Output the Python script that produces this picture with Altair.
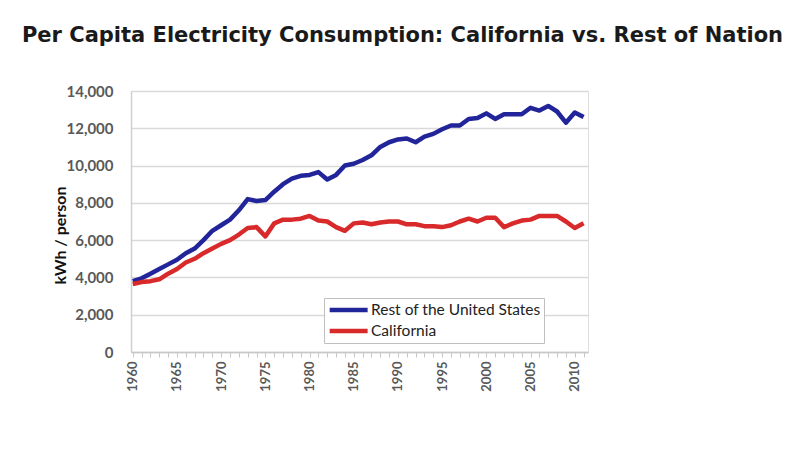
import altair as alt
import pandas as pd

years = list(range(1960, 2012))
rest_of_us = [3800, 3950, 4200, 4450, 4700, 4950, 5300, 5550, 6000, 6500,
              6800, 7100, 7600, 8200, 8100, 8150, 8600, 9000, 9300, 9450,
              9500, 9650, 9250, 9500, 10000, 10100, 10300, 10550, 11000, 11250,
              11400, 11450, 11250, 11550, 11700, 11950, 12150, 12150, 12500, 12550,
              12800, 12500, 12750, 12750, 12750, 13100, 12950, 13200, 12900, 12300,
              12850, 12600]
california = [3650, 3750, 3800, 3900, 4200, 4450, 4800, 5000, 5300, 5550,
              5800, 6000, 6300, 6650, 6700, 6200, 6900, 7100, 7100, 7150,
              7300, 7050, 7000, 6700, 6500, 6900, 6950, 6850, 6950, 7000,
              7000, 6850, 6850, 6750, 6750, 6700, 6800, 7000, 7150, 7000,
              7200, 7200, 6700, 6900, 7050, 7100, 7300, 7300, 7300, 7000,
              6650, 6900]
series_names = ["Rest of the United States", "California"]
series_colors = ["#22249a", "#d8292b"]
y_ticks = [0, 2000, 4000, 6000, 8000, 10000, 12000, 14000]

df = pd.concat([
    pd.DataFrame({"year": years, "value": rest_of_us, "series": series_names[0]}),
    pd.DataFrame({"year": years, "value": california, "series": series_names[1]}),
])

chart = alt.Chart(df).mark_line(strokeWidth=4.5, strokeJoin="round").encode(
    x=alt.X("year:Q",
            scale=alt.Scale(domain=[1959.8, 2011.5], nice=False, zero=False),
            axis=alt.Axis(title=None, values=years, format="d",
                          labelExpr="datum.value % 5 == 0 ? datum.label : ''",
                          labelAngle=270, labelAlign="right", labelBaseline="middle",
                          labelFont="Lato", labelFontWeight="bold", labelFontSize=13,
                          labelColor="#595959", labelPadding=4,
                          tickSize=5, tickColor="#c8c8c8", tickWidth=1,
                          domainColor="#c8c8c8", domainWidth=1.5, grid=False,
                          labelOverlap=False, labelFlush=False)),
    y=alt.Y("value:Q",
            scale=alt.Scale(domain=[0, 14000], nice=False),
            axis=alt.Axis(title="kWh / person", values=y_ticks, format=",d",
                          labelFont="Lato", labelFontWeight="bold", labelFontSize=15,
                          labelColor="#595959", labelPadding=18, ticks=False,
                          domainColor="#d0d0d0", domainWidth=1.5,
                          gridColor="#d9d9d9", gridWidth=1.5,
                          titleFont="Lato", titleFontWeight="bold", titleFontSize=16,
                          titleColor="#111111", titleX=-71, titleY=144,
                          titleAngle=270, titleAlign="center", titleBaseline="middle")),
    color=alt.Color("series:N",
                    scale=alt.Scale(domain=series_names, range=series_colors),
                    sort=series_names,
                    legend=alt.Legend(title=None, orient="none", legendX=193, legendY=207,
                                      fillColor="white", strokeColor="#bfbfbf",
                                      padding=3, symbolType="M-1,0H5",
                                      symbolStrokeWidth=4.5, symbolSize=160,
                                      labelFont="Lato", labelFontSize=15.5,
                                      labelColor="#222222", labelOffset=26,
                                      labelLimit=400, rowPadding=3)),
).properties(
    width=457,
    height=261,
    title=alt.TitleParams(
        text="Per Capita Electricity Consumption: California vs. Rest of Nation",
        font="DejaVu Sans", fontSize=21, fontWeight="bold", color="#1a1a1a",
        anchor="middle", dx=43, offset=21, baseline="alphabetic"),
    autosize=alt.AutoSizeParams(type="none"),
    padding={"left": 123, "top": 83, "right": 196, "bottom": 80},
).configure_view(stroke=None).configure(background="white")

chart.save("out.html", embed_options={"renderer": "svg", "actions": False})
